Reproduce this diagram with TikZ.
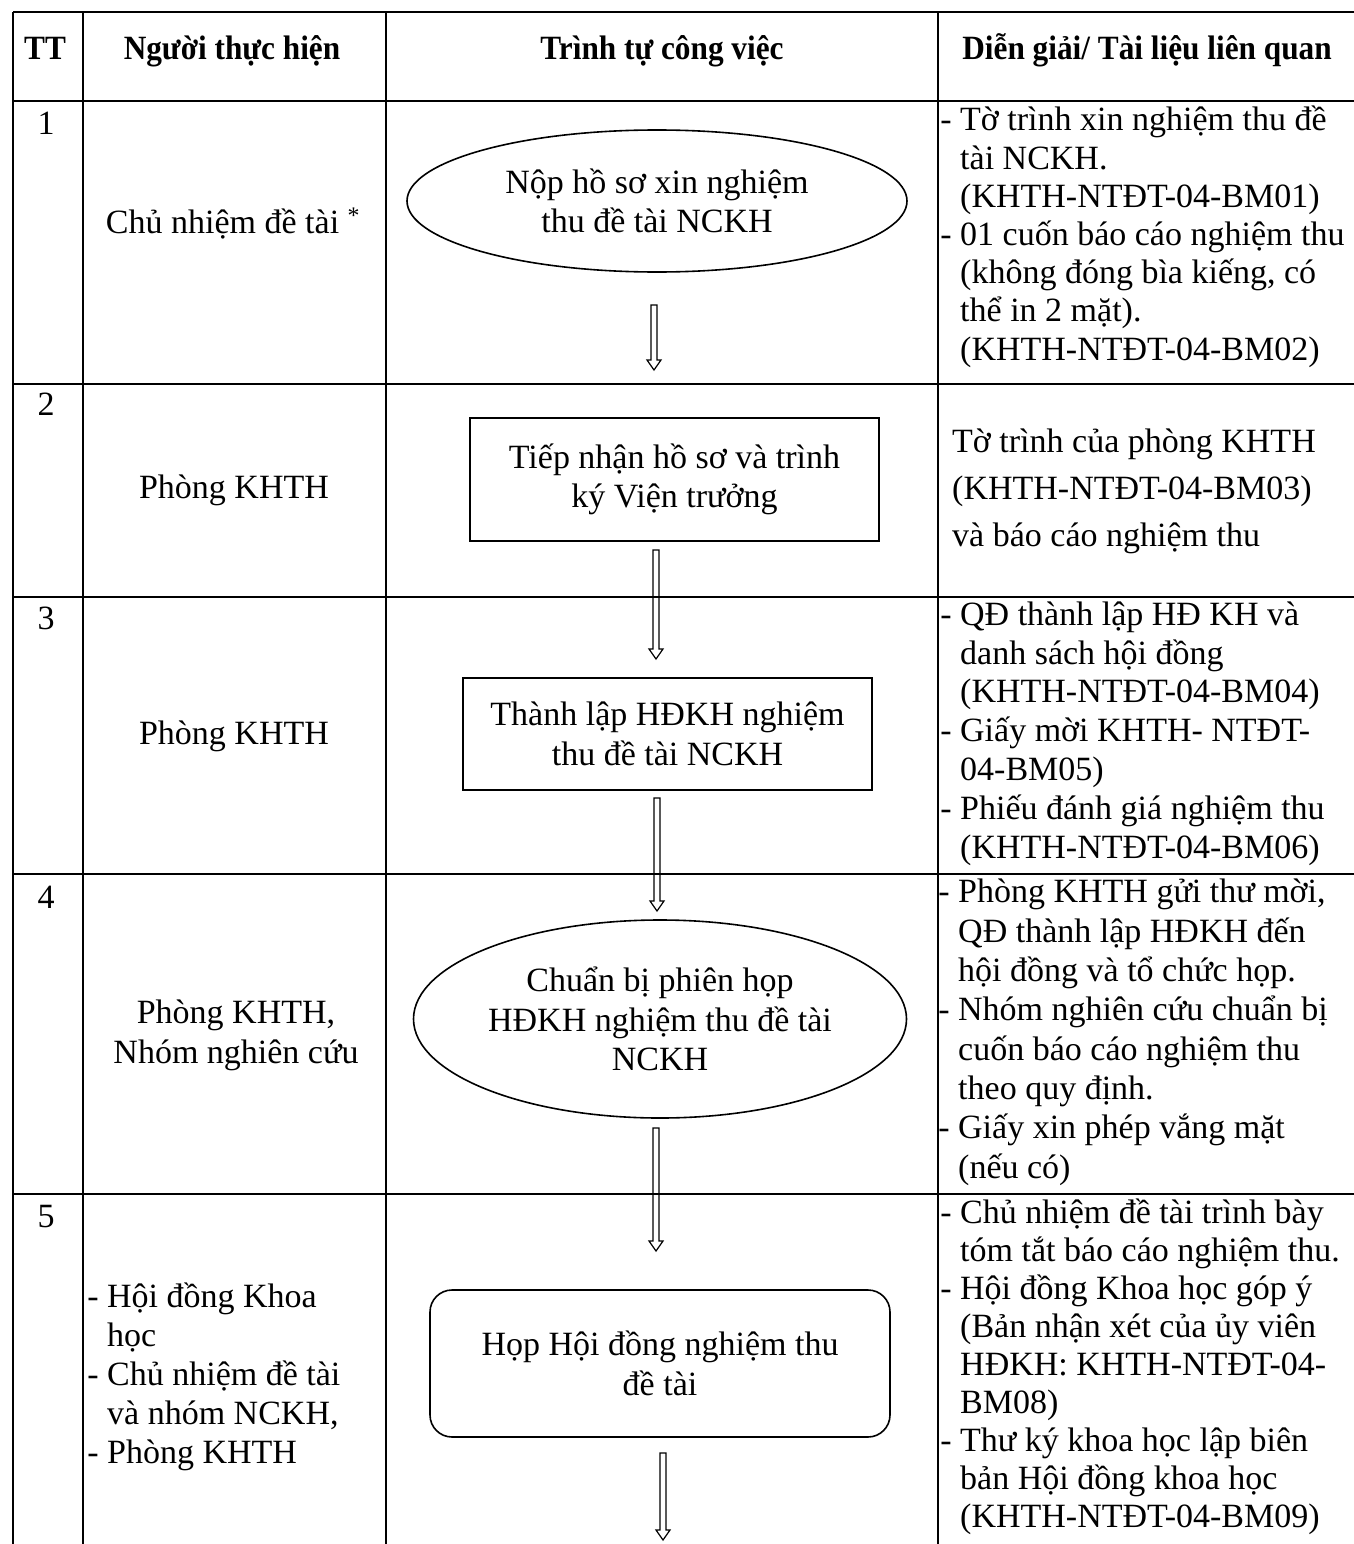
\documentclass[tikz,border=0pt]{standalone}
\usepackage{fontspec}
\setmainfont{Liberation Serif}
\usetikzlibrary{calc,shapes.geometric}

\begin{document}
\begin{tikzpicture}[x=1pt,y=-1pt,
  grid/.style={line width=1.8pt},
  txt/.style={inner sep=0pt,font=\fontsize{34}{38.8}\selectfont},
  hdr/.style={inner sep=0pt,anchor=base,xscale=0.92,transform shape,font=\fontsize{34}{38.8}\selectfont\bfseries},
  desc/.style={txt,align=left,anchor=base west},
  stepshape/.style={draw,line width=1.6pt,inner sep=0pt,align=center,font=\fontsize{34}{39.5}\selectfont},
  oval/.style={stepshape,ellipse},
  box/.style={stepshape,rectangle},
  hollowarrow/.style={draw,line width=1.2pt,
    to path={let \p1=(\tikztostart),\p2=(\tikztotarget) in
      (\x1-3pt,\y1) -- (\x1-3pt,\y2+10pt) -- (\x1-7pt,\y2+10pt) -- (\x1,\y2)
      -- (\x1+7pt,\y2+10pt) -- (\x1+3pt,\y2+10pt) -- (\x1+3pt,\y1) -- cycle}}]
\useasboundingbox (0,0) rectangle (1354,1544);
\fill[white] (0,0) rectangle (1354,1544);

\foreach \y in {12,101,384,597,874,1194}
  \draw[grid] (13,\y) -- (1354,\y);
\foreach \x in {13,83,386,938}
  \draw[grid] (\x,12) -- (\x,1544);

\node[hdr] (hTT) at (45,60) {TT};
\node[hdr] (hPerson) at (232,60) {Người thực hiện};
\node[hdr] (hWork) at (662,60) {Trình tự công việc};
\node[hdr] (hDesc) at (1147,60) {Diễn giải/ Tài liệu liên quan};

\node[txt,anchor=base] (n1) at (46,135) {1};
\node[txt,anchor=base] (n2) at (46,415) {2};
\node[txt,anchor=base] (n3) at (46,629) {3};
\node[txt,anchor=base] (n4) at (46,908) {4};
\node[txt,anchor=base] (n5) at (46,1227) {5};

\node[txt,anchor=base] (p1) at (233,233) {Chủ nhiệm đề tài \textsuperscript{*}};
\node[txt,anchor=base] (p2) at (234,498) {Phòng KHTH};
\node[txt,anchor=base] (p3) at (234,744) {Phòng KHTH};
\node[txt,align=center,anchor=base,font=\fontsize{34}{40}\selectfont] (p4) at (236,1063) {Phòng KHTH,\\Nhóm nghiên cứu};
\node[desc,font=\fontsize{34}{39}\selectfont] (p5) at (107,1463) {\llap{- }Hội đồng Khoa\\học\\\llap{- }Chủ nhiệm đề tài\\và nhóm NCKH,\\\llap{- }Phòng KHTH};

\node[oval,minimum width=500pt,minimum height=142pt] (e1) at (657,201) {Nộp hồ sơ xin nghiệm\\thu đề tài NCKH};
\node[box,minimum width=409pt,minimum height=123pt] (r2) at (674.5,479.5) {Tiếp nhận hồ sơ và trình\\ký Viện trưởng};
\node[box,minimum width=409pt,minimum height=112pt] (r3) at (667.5,734) {Thành lập HĐKH nghiệm\\thu đề tài NCKH};
\node[oval,minimum width=493pt,minimum height=198pt] (e4) at (660,1019) {Chuẩn bị phiên họp\\HĐKH nghiệm thu đề tài\\NCKH};
\node[box,rounded corners=22pt,minimum width=460pt,minimum height=147pt] (r5) at (660,1363.5) {Họp Hội đồng nghiệm thu\\đề tài};

\coordinate (a1s) at (654,305);  \coordinate (a1e) at (654,370);
\coordinate (a2s) at (656,550);  \coordinate (a2e) at (656,659);
\coordinate (a3s) at (657,798);  \coordinate (a3e) at (657,911);
\coordinate (a4s) at (656,1128); \coordinate (a4e) at (656,1251);
\coordinate (a5s) at (663,1453); \coordinate (a5e) at (663,1540);
\draw[hollowarrow] (a1s) to (a1e);
\draw[hollowarrow] (a2s) to (a2e);
\draw[hollowarrow] (a3s) to (a3e);
\draw[hollowarrow] (a4s) to (a4e);
\draw[hollowarrow] (a5s) to (a5e);

\node[desc,font=\fontsize{34}{38.2}\selectfont] (d1) at (960,360) {\llap{- }Tờ trình xin nghiệm thu đề\\tài NCKH.\\(KHTH-NTĐT-04-BM01)\\\llap{- }01 cuốn báo cáo nghiệm thu\\(không đóng bìa kiếng, có\\thể in 2 mặt).\\(KHTH-NTĐT-04-BM02)};
\node[desc,font=\fontsize{34}{47}\selectfont] (d2) at (952,546) {Tờ trình của phòng KHTH\\(KHTH-NTĐT-04-BM03)\\và báo cáo nghiệm thu};
\node[desc] (d3) at (960,858) {\llap{- }QĐ thành lập HĐ KH và\\danh sách hội đồng\\(KHTH-NTĐT-04-BM04)\\\llap{- }Giấy mời KHTH- NTĐT-\\04-BM05)\\\llap{- }Phiếu đánh giá nghiệm thu\\(KHTH-NTĐT-04-BM06)};
\node[desc,font=\fontsize{34}{39.3}\selectfont] (d4) at (958,1178) {\llap{- }Phòng KHTH gửi thư mời,\\QĐ thành lập HĐKH đến\\hội đồng và tổ chức họp.\\\llap{- }Nhóm nghiên cứu chuẩn bị\\cuốn báo cáo nghiệm thu\\theo quy định.\\\llap{- }Giấy xin phép vắng mặt\\(nếu có)};
\node[desc,font=\fontsize{34}{38}\selectfont] (d5) at (960,1527) {\llap{- }Chủ nhiệm đề tài trình bày\\tóm tắt báo cáo nghiệm thu.\\\llap{- }Hội đồng Khoa học góp ý\\(Bản nhận xét của ủy viên\\HĐKH: KHTH-NTĐT-04-\\BM08)\\\llap{- }Thư ký khoa học lập biên\\bản Hội đồng khoa học\\(KHTH-NTĐT-04-BM09)};
\end{tikzpicture}
\end{document}
